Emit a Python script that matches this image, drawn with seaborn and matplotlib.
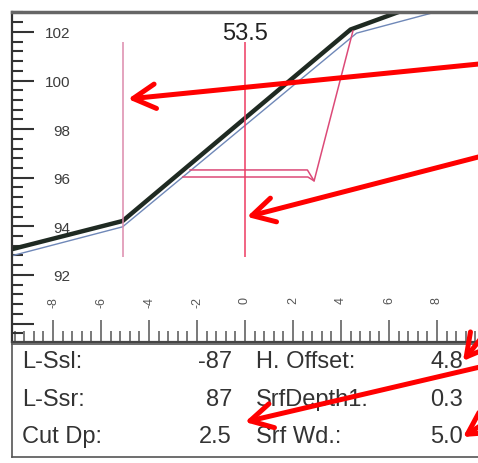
import matplotlib
matplotlib.use("Agg")
import matplotlib.pyplot as plt
from matplotlib.ticker import FixedLocator, MultipleLocator
import seaborn as sns

# Perfil del terreno (linea gruesa) y diseño (linea fina)
ground_x = [-9.75, -5.1, 4.4, 6.4]
ground_y = [93.05, 94.22, 102.1, 102.82]
design_x = [-9.75, -5.1, 4.65, 8.1]
design_y = [92.78, 93.98, 101.95, 102.86]

# Plantilla de corte
tmpl_top_x = [-2.3, 2.6, 2.88, 4.5]
tmpl_top_y = [96.32, 96.32, 95.87, 102.05]
tmpl_bot_x = [-2.6, 2.62, 2.88]
tmpl_bot_y = [96.03, 96.03, 95.87]

# Lineas verticales
vline_x = [-5.1, 0.0]
vline_colors = ["#dc8aac", "#ee3a62"]
vline_lo, vline_hi = 92.75, 101.6
station_label = "53.5"

x_ticks = [-8, -6, -4, -2, 0, 2, 4, 6, 8]
y_ticks = [90, 92, 94, 96, 98, 100, 102]
y_labels = ["", "92", "94", "96", "98", "100", "102"]

# Tabla
left_names = ["L-Ssl:", "L-Ssr:", "Cut Dp:"]
left_values = [-87, 87, 2.5]
right_names = ["H. Offset:", "SrfDepth1:", "Srf Wd.:"]
right_values = [4.8, 0.3, 5.0]

sns.set_style("white")
plt.rcParams["font.family"] = ["Liberation Sans", "DejaVu Sans"]

W, H = 478, 464
fig = plt.figure(figsize=(W / 100, H / 100), dpi=100)
ax = fig.add_axes([12 / W, 1 - 343 / H, (W - 12) / W, 330 / H])
ax.set_xlim(-9.71, 9.71)
ax.set_ylim(89.24, 102.82)

sns.lineplot(x=design_x, y=design_y, sort=False, estimator=None, ax=ax,
             color="#6f88b8", linewidth=1.0)
sns.lineplot(x=ground_x, y=ground_y, sort=False, estimator=None, ax=ax,
             color="#1f2a22", linewidth=3.2)
sns.lineplot(x=tmpl_top_x, y=tmpl_top_y, sort=False, estimator=None, ax=ax,
             color="#dc4a78", linewidth=1.1)
sns.lineplot(x=tmpl_bot_x, y=tmpl_bot_y, sort=False, estimator=None, ax=ax,
             color="#dc4a78", linewidth=1.1)
for vx, vc in zip(vline_x, vline_colors):
    ax.vlines(vx, vline_lo, vline_hi, color=vc, linewidth=1.1)

ax.text(0, 101.95, station_label, ha="center", va="center", fontsize=17, color="#222222")

# Ejes tipo regla
ax.xaxis.set_major_locator(FixedLocator(x_ticks))
ax.xaxis.set_minor_locator(MultipleLocator(0.4))
ax.yaxis.set_major_locator(FixedLocator(y_ticks))
ax.yaxis.set_minor_locator(MultipleLocator(0.4))
ax.set_yticklabels(y_labels)
ax.set_xticklabels([str(t) for t in x_ticks])
ax.tick_params(axis="y", which="major", direction="in", length=16, width=1.5,
               color="#333333", pad=-42, labelsize=11, labelcolor="#3c3c3c", left=True)
ax.tick_params(axis="y", which="minor", direction="in", length=8, width=1.5,
               color="#333333", left=True)
ax.tick_params(axis="x", which="major", direction="in", length=16, width=1.1,
               color="#555555", pad=-33, labelsize=9, labelcolor="#555555",
               labelrotation=90, bottom=True)
ax.tick_params(axis="x", which="minor", direction="in", length=8, width=1.1,
               color="#555555", bottom=True)
ax.set_xlabel("")
ax.set_ylabel("")
for side, c, lw in [("left", "#333333", 1.6), ("bottom", "#444444", 1.6), ("top", "#666666", 2.5)]:
    ax.spines[side].set_color(c)
    ax.spines[side].set_linewidth(lw)
ax.spines["right"].set_visible(False)

arrow_kw = dict(arrowstyle="->,head_length=1.0,head_width=0.55", color="#ff0000",
                lw=3.6, mutation_scale=16, shrinkA=0, shrinkB=0)
ax.annotate("", xy=(-4.875, 99.24), xytext=(9.75, 100.68), arrowprops=arrow_kw,
            annotation_clip=False)
ax.annotate("", xy=(0.08, 94.39), xytext=(9.75, 96.86), arrowprops=arrow_kw,
            annotation_clip=False)

# Tabla de parametros
tab = fig.add_axes([12 / W, 6 / H, (W - 12) / W, 113 / H])
tab.set_xlim(12, 478)
tab.set_ylim(458, 345)
tab.set_xticks([])
tab.set_yticks([])
for side in ["left", "bottom", "top"]:
    tab.spines[side].set_color("#555555")
    tab.spines[side].set_linewidth(1.2)
tab.spines["right"].set_visible(False)

rows_y = [362, 400, 437]
txt = dict(fontsize=17, color="#333333", va="center")
for ry, ln, lv, rn, rv in zip(rows_y, left_names, left_values, right_names, right_values):
    tab.text(22, ry, ln, ha="left", **txt)
    tab.text(232, ry, f"{lv:g}", ha="right", **txt)
    tab.text(256, ry, rn, ha="left", **txt)
    tab.text(463, ry, f"{rv:.1f}", ha="right", **txt)

tab.annotate("", xy=(463, 362), xytext=(490, 328), arrowprops=arrow_kw, annotation_clip=False)
tab.annotate("", xy=(245, 423), xytext=(480, 368), arrowprops=arrow_kw, annotation_clip=False)
tab.annotate("", xy=(463, 438), xytext=(480, 427), arrowprops=arrow_kw, annotation_clip=False)

fig.savefig("out.png", dpi=100)
